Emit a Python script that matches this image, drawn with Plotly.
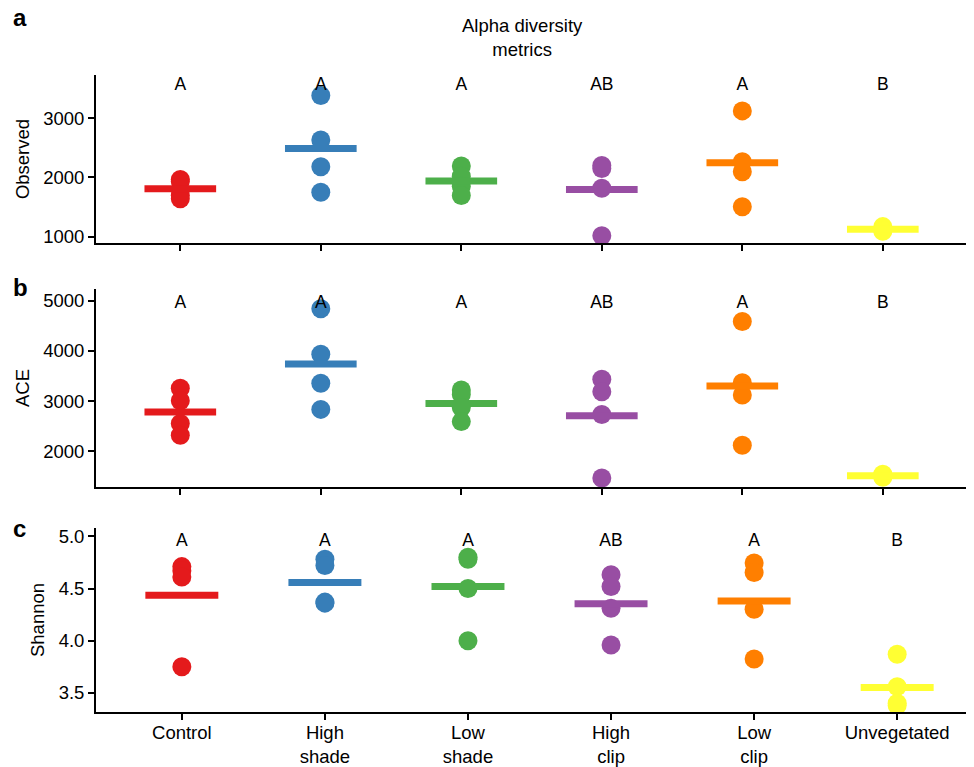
import plotly.graph_objects as go

groups = ["Control", "High<br>shade", "Low<br>shade", "High<br>clip", "Low<br>clip", "Unvegetated"]
colors = ["#E41A1C", "#377EB8", "#4DAF4A", "#984EA3", "#FF7F00", "#FFFF33"]

observed = [[1965, 1930, 1700, 1640],
            [3378, 2631, 2180, 1749],
            [2190, 2020, 1850, 1695],
            [2200, 2150, 1816, 1017],
            [3120, 2265, 2096, 1506],
            [1170, 1130, 1110, 1090]]
ace = [[3254, 3006, 2554, 2320],
       [4840, 3934, 3354, 2834],
       [3220, 3130, 2870, 2590],
       [3434, 3187, 2733, 1467],
       [4587, 3367, 3120, 2120],
       [1540, 1520, 1500, 1480]]
shannon = [[4.71, 4.67, 4.61, 3.75],
           [4.78, 4.72, 4.37, 4.36],
           [4.80, 4.78, 4.50, 4.00],
           [4.632, 4.519, 4.311, 3.959],
           [4.744, 4.654, 4.302, 3.824],
           [3.87, 3.56, 3.40, 3.38]]
letters = ["A", "A", "A", "AB", "A", "B"]
metric_names = ["Observed", "ACE", "Shannon"]
panel_labels = ["a", "b", "c"]

FONT = "Liberation Sans, Arial, Helvetica, sans-serif"
FS = 18.5
OFF = 8                      # default page body margin
W, H = 974 - OFF, 767 - OFF
L = 96 - OFF
PW = W - L


def py(v):
    return 1 - (v - OFF) / H


def px(v):
    return (v - 96) / PW


panels = [
    dict(data=observed, yrange=[894, 3725], ticks=[1000, 2000, 3000], fmt="d", top=75, bot=243,
         xrange=[-0.6, 5.649], letter_y=3545, label_y=17),
    dict(data=ace, yrange=[1287, 5233], ticks=[2000, 3000, 4000, 5000], fmt="d", top=289, bot=487,
         xrange=[-0.6, 5.649], letter_y=4945, label_y=288),
    dict(data=shannon, yrange=[3.317, 5.08], ticks=[3.5, 4.0, 4.5, 5.0], fmt=".1f", top=528, bot=712,
         xrange=[-0.6, 5.537], letter_y=4.952, label_y=528),
]

fig = go.Figure()
layout = dict(
    width=W, height=H, plot_bgcolor="white", paper_bgcolor="white",
    margin=dict(l=L, r=0, t=0, b=0, autoexpand=False), showlegend=False,
    font=dict(family=FONT, size=FS, color="black"),
)
annotations = []
xs = list(range(len(groups)))
for p, pan in enumerate(panels):
    sfx = "" if p == 0 else str(p + 1)
    xa, ya = "x" + sfx, "y" + sfx
    for i, vals in enumerate(pan["data"]):
        fig.add_trace(go.Scatter(
            x=[i] * len(vals), y=vals, mode="markers", xaxis=xa, yaxis=ya,
            marker=dict(size=19, color=colors[i], line=dict(width=0)), hoverinfo="y"))
        m = sum(vals) / len(vals)
        fig.add_trace(go.Scatter(
            x=[i - 0.255, i + 0.255], y=[m, m], mode="lines", xaxis=xa, yaxis=ya,
            line=dict(color=colors[i], width=7), hoverinfo="skip"))
    fig.add_trace(go.Scatter(
        x=xs, y=[pan["letter_y"]] * len(xs), text=letters, mode="text", xaxis=xa, yaxis=ya,
        textfont=dict(size=17.5, color="black", family=FONT), hoverinfo="skip"))
    layout["xaxis" + sfx] = dict(
        domain=[0, 1], anchor=ya, range=pan["xrange"], tickmode="array", tickvals=xs,
        ticktext=groups, showticklabels=(p == 2), ticks="outside", ticklen=6, tickwidth=1.5,
        tickcolor="black", showline=True, linecolor="black", linewidth=1.8, automargin=False,
        ticklabelstandoff=-3,
        showgrid=False, zeroline=False, tickfont=dict(size=FS, family=FONT, color="black"))
    layout["yaxis" + sfx] = dict(
        domain=[py(pan["bot"]), py(pan["top"])], anchor=xa, range=pan["yrange"],
        tickmode="array", tickvals=pan["ticks"], tickformat=pan["fmt"], automargin=False,
        ticks="outside", ticklen=6, tickwidth=1.5, tickcolor="black",
        showline=True, linecolor="black", linewidth=1.8, showgrid=False, zeroline=False,
        tickfont=dict(size=FS, family=FONT, color="black"),
        title=dict(text=metric_names[p], standoff=9, font=dict(size=FS, family=FONT, color="black")))
    annotations.append(dict(
        text="<b>" + panel_labels[p] + "</b>", xref="paper", yref="paper",
        x=px(11), y=py(pan["label_y"]), xanchor="left", yanchor="middle",
        showarrow=False, font=dict(size=24, family=FONT, color="black")))

annotations.append(dict(
    text="Alpha diversity<br>metrics", xref="paper", yref="paper",
    x=px(522), y=py(37), xanchor="center", yanchor="middle",
    showarrow=False, font=dict(size=FS, family=FONT, color="black")))
layout["annotations"] = annotations
fig.update_layout(**layout)
fig.write_html("out.html")
